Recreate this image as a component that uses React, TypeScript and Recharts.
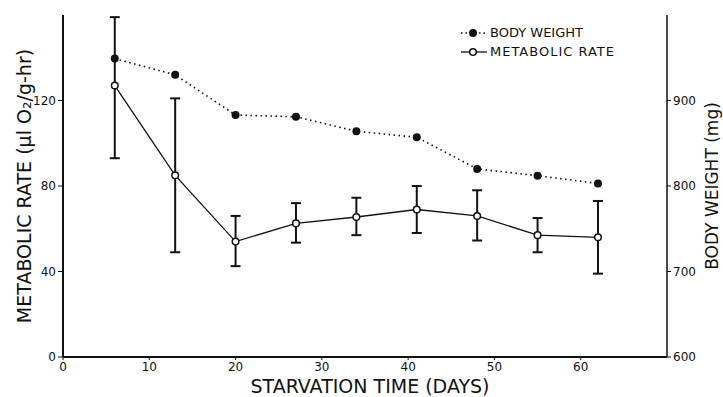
import React from 'react';
import {
    LineChart, Line, XAxis, YAxis, ErrorBar, Legend, Label,
} from 'recharts';

// starvation time (days)
const days = [6, 13, 20, 27, 34, 41, 48, 55, 62];
// metabolic rate (ul O2 / g-hr), left axis
const metabolicRate = [127, 85, 54, 62.5, 65.5, 69, 66, 57, 56];
const mrErrLow = [34, 36, 11.5, 9, 8.5, 11, 11.5, 8, 17];
const mrErrHigh = [32, 36, 12, 9.5, 9, 11, 12, 8, 17];
// body weight (mg), right axis
const bodyWeight = [949, 930, 883, 881, 864, 857, 820, 812, 803];

const xTicks = [0, 10, 20, 30, 40, 50, 60];
const leftTicks = [0, 40, 80, 120];
const rightTicks = [600, 700, 800, 900];

const data = days.map((d, i) => ({
    day: d,
    mr: metabolicRate[i],
    mrErr: [mrErrLow[i], mrErrHigh[i]],
    bw: bodyWeight[i],
}));

const FONT = '"DejaVu Sans", sans-serif';
const tickStyle = { fontSize: 12, fill: '#111', fontFamily: FONT };

const LegendBox = () => (
    <div style={{ fontFamily: FONT, fontSize: 13, color: '#111', lineHeight: '19px' }}>
        <div style={{ display: 'flex', alignItems: 'center' }}>
            <svg width={28} height={10}>
                <line x1={1} y1={5} x2={27} y2={5} stroke="#111" strokeWidth={1.5} strokeDasharray="1.5 3" />
                <circle cx={13} cy={5} r={4} fill="#111" />
            </svg>
            <span style={{ marginLeft: 2 }}>BODY WEIGHT</span>
        </div>
        <div style={{ display: 'flex', alignItems: 'center' }}>
            <svg width={28} height={10}>
                <line x1={1} y1={5} x2={27} y2={5} stroke="#111" strokeWidth={1.3} />
                <circle cx={13} cy={5} r={3.3} fill="#fff" stroke="#111" strokeWidth={1.5} />
            </svg>
            <span style={{ marginLeft: 2, letterSpacing: 1 }}>METABOLIC RATE</span>
        </div>
    </div>
);

export default function App() {
    return (
        <div style={{ position: 'absolute', left: 0, top: 0, background: '#fff' }}>
            <LineChart width={723} height={397} data={data}
                       margin={{ top: 15, right: 0, bottom: 0, left: 0 }}>
                <XAxis dataKey="day" type="number" domain={[0, 70]} ticks={xTicks}
                       height={40} tick={tickStyle} tickSize={3}
                       axisLine={{ stroke: '#111', strokeWidth: 2 }} tickLine={{ stroke: '#111' }}>
                    <Label value="STARVATION TIME (DAYS)" position="insideBottom" offset={4} dx={5}
                           style={{ fontSize: 19, fill: '#111', fontFamily: FONT }} />
                </XAxis>
                <YAxis yAxisId="left" domain={[0, 160]} ticks={leftTicks} width={63}
                       tick={tickStyle} tickSize={5}
                       axisLine={{ stroke: '#111', strokeWidth: 2 }} tickLine={{ stroke: '#111' }}>
                    <Label value="METABOLIC RATE (μl O₂/g-hr)" angle={-90} position="insideLeft" offset={24}
                           style={{ fontSize: 19, fill: '#111', fontFamily: FONT, textAnchor: 'middle' }} />
                </YAxis>
                <YAxis yAxisId="right" orientation="right" domain={[600, 1000]} ticks={rightTicks} width={56}
                       tick={tickStyle} tickSize={4}
                       axisLine={{ stroke: '#111', strokeWidth: 1.5 }} tickLine={{ stroke: '#111' }}>
                    <Label value="BODY WEIGHT (mg)" angle={-90} position="insideRight" offset={11}
                           style={{ fontSize: 17, fill: '#111', fontFamily: FONT, textAnchor: 'middle' }} />
                </YAxis>
                <Legend layout="horizontal" verticalAlign="middle" align="center"
                        wrapperStyle={{ top: 23, left: 460, width: 220 }}
                        content={() => <LegendBox />} />
                <Line yAxisId="right" dataKey="bw" stroke="#111" strokeWidth={1.6}
                      strokeDasharray="1.5 3.5"
                      dot={{ r: 4, fill: '#111', stroke: '#111', strokeWidth: 0, strokeDasharray: '' }}
                      isAnimationActive={false} />
                <Line yAxisId="left" dataKey="mr" stroke="#111" strokeWidth={1.3}
                      dot={{ r: 3.3, fill: '#fff', stroke: '#111', strokeWidth: 1.5 }}
                      isAnimationActive={false}>
                    <ErrorBar dataKey="mrErr" width={5} stroke="#111" strokeWidth={2} direction="y" />
                </Line>
            </LineChart>
        </div>
    );
}
